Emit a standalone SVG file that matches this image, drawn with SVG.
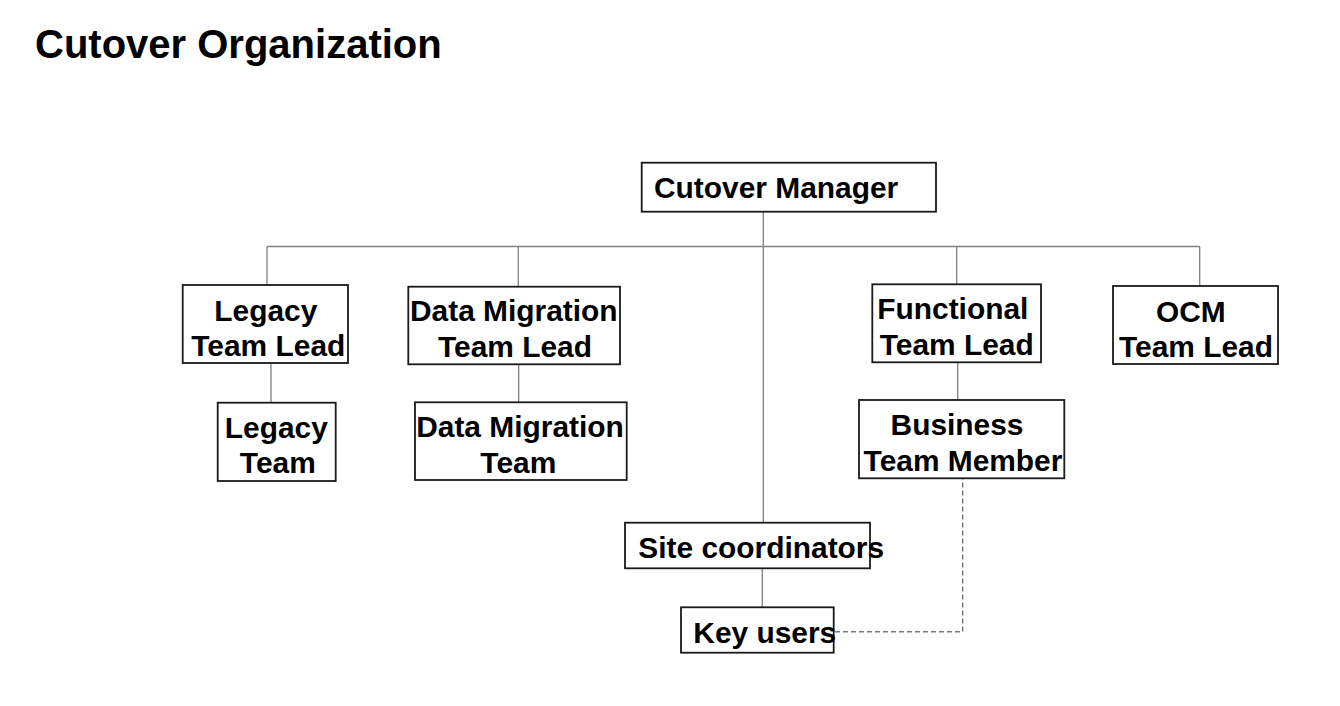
<svg xmlns="http://www.w3.org/2000/svg" width="1340" height="706" viewBox="0 0 1340 706">
<style>
.box{fill:#fff;stroke:#1a1a1a;stroke-width:1.8}
.t{font-family:"Liberation Sans",Arial,sans-serif;font-weight:bold;font-size:29.9px;fill:#000}
.c{text-anchor:middle}
.ln{stroke:#808080;stroke-width:1.3;fill:none}
.dash{stroke:#7a7a7a;stroke-width:1.4;fill:none;stroke-dasharray:5 3}
</style>
<rect width="1340" height="706" fill="#fff"/>
<text x="35" y="58" font-family="'Liberation Sans',Arial,sans-serif" font-weight="bold" font-size="40" fill="#000">Cutover Organization</text>
<g id="connectors">
<line class="ln" x1="763.3" y1="212" x2="763.3" y2="522.7"/>
<line class="ln" x1="267" y1="246.5" x2="1200" y2="246.5"/>
<line class="ln" x1="267" y1="246.5" x2="267" y2="285"/>
<line class="ln" x1="518.3" y1="246.5" x2="518.3" y2="286.7"/>
<line class="ln" x1="956.7" y1="246.5" x2="956.7" y2="284.3"/>
<line class="ln" x1="1199.7" y1="246.5" x2="1199.7" y2="286"/>
<line class="ln" x1="271" y1="363" x2="271" y2="402.7"/>
<line class="ln" x1="518.7" y1="364.3" x2="518.7" y2="402.3"/>
<line class="ln" x1="957.7" y1="362.3" x2="957.7" y2="400"/>
<line class="ln" x1="762.3" y1="568.3" x2="762.3" y2="607.3"/>
<polyline class="dash" points="835,631.7 962.7,631.7 962.7,479"/>
</g>
<g id="cutover-manager">
<rect class="box" x="641.7" y="162.7" width="294.3" height="49"/>
<text class="t" x="654" y="197.7">Cutover Manager</text>
</g>
<g id="legacy-team-lead">
<rect class="box" x="182.7" y="285" width="165.3" height="78"/>
<text class="t c" x="265.8" y="320.7">Legacy</text>
<text class="t c" x="268.3" y="356">Team Lead</text>
</g>
<g id="legacy-team">
<rect class="box" x="217.7" y="402.7" width="118" height="78.3"/>
<text class="t c" x="276.3" y="437.7">Legacy</text>
<text class="t c" x="277.8" y="473.3">Team</text>
</g>
<g id="data-migration-team-lead">
<rect class="box" x="408.3" y="286.7" width="211.7" height="77.6"/>
<text class="t c" x="513.8" y="320.7">Data Migration</text>
<text class="t c" x="515" y="357.3">Team Lead</text>
</g>
<g id="data-migration-team">
<rect class="box" x="415" y="402.3" width="211.7" height="77.7"/>
<text class="t c" x="520" y="436.7">Data Migration</text>
<text class="t c" x="518.3" y="473.3">Team</text>
</g>
<g id="functional-team-lead">
<rect class="box" x="872.3" y="284.3" width="168.7" height="78"/>
<text class="t c" x="952.8" y="319.3">Functional</text>
<text class="t c" x="956.7" y="355">Team Lead</text>
</g>
<g id="ocm-team-lead">
<rect class="box" x="1113" y="286" width="165" height="78"/>
<text class="t c" x="1190.8" y="321.7">OCM</text>
<text class="t c" x="1196" y="357.3">Team Lead</text>
</g>
<g id="business-team-member">
<rect class="box" x="859" y="400" width="205.3" height="78.3"/>
<text class="t c" x="957" y="435">Business</text>
<text class="t c" x="963" y="470.7">Team Member</text>
</g>
<g id="site-coordinators">
<rect class="box" x="625" y="522.7" width="245" height="45.6"/>
<text class="t" x="638.3" y="557.7">Site coordinators</text>
</g>
<g id="key-users">
<rect class="box" x="681" y="607.3" width="152.7" height="45.4"/>
<text class="t" x="693.3" y="642.7">Key users</text>
</g>
</svg>
